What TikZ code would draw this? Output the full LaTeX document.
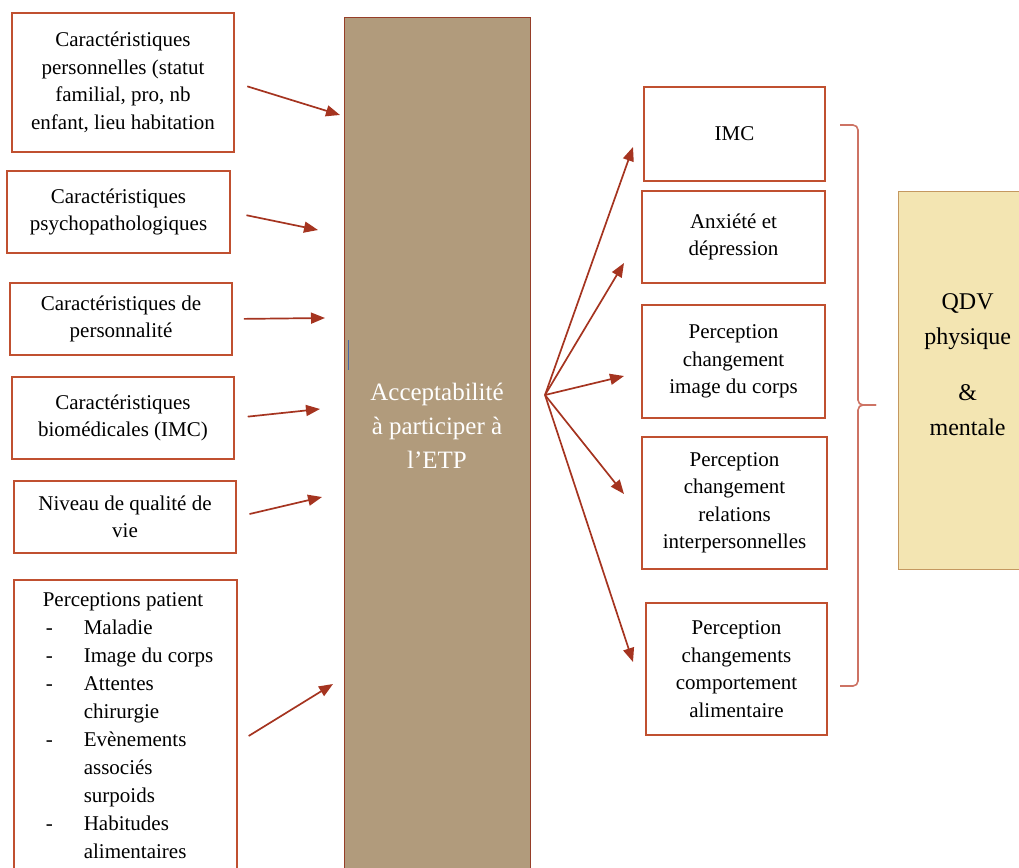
\documentclass[tikz,border=0pt]{standalone}
\usepackage{fontspec}
\setmainfont{Liberation Serif}
\usepackage{tikz}
\usetikzlibrary{positioning}
\usetikzlibrary{arrows.meta}

\definecolor{boxred}{RGB}{192,80,48}
\definecolor{arrred}{RGB}{165,52,32}
\definecolor{etpfill}{RGB}{177,155,124}
\definecolor{etpline}{RGB}{150,62,40}
\definecolor{qdvfill}{RGB}{243,229,178}
\definecolor{qdvline}{RGB}{196,152,96}
\definecolor{bracered}{RGB}{205,115,100}
\definecolor{cursorblue}{RGB}{70,100,165}

\begin{document}
\begin{tikzpicture}[x=1pt, y=-1pt,
    factor/.style={draw=boxred, line width=1.6pt, fill=white, align=center, inner sep=4pt,
                   font=\fontsize{21}{27.5}\selectfont},
    link/.style={-{Triangle[length=14pt, width=11pt]}, draw=arrred, line width=1.7pt},
    brace/.style={draw=bracered, line width=1.6pt, rounded corners=5pt}]
    \useasboundingbox (0,0) rectangle (1019,867);
    \clip (0,0) rectangle (1019,867);
    % nodes %
    \node[factor, minimum width=222pt, minimum height=139pt] (perso) at (123,82.5)
        {Caractéristiques\\ personnelles (statut\\ familial, pro, nb\\ enfant, lieu habitation};
    \node[factor, minimum width=223pt, minimum height=82pt] (psycho) at (118.5,212)
        {Caractéristiques\\ psychopathologiques};
    \node[factor, minimum width=222pt, minimum height=72pt] (person) at (121,319)
        {Caractéristiques de\\ personnalité};
    \node[factor, minimum width=222pt, minimum height=82pt] (biomed) at (123,418)
        {Caractéristiques\\ biomédicales (IMC)};
    \node[factor, minimum width=222pt, minimum height=72pt] (qualite) at (125,517)
        {Niveau de qualité de\\ vie};
    \node[factor, anchor=north west, align=left, inner xsep=29pt, inner ysep=13pt] (percep) at (13,579)
        {\parbox[c][300pt][t]{165pt}{\fontsize{21}{28}\selectfont\raggedright
        \mbox{Perceptions patient}\\
        \hspace*{3pt}\makebox[38pt][l]{-}\mbox{Maladie}\\
        \hspace*{3pt}\makebox[38pt][l]{-}\mbox{Image du corps}\\
        \hspace*{3pt}\makebox[38pt][l]{-}\mbox{Attentes}\\
        \hspace*{41pt}\mbox{chirurgie}\\
        \hspace*{3pt}\makebox[38pt][l]{-}\mbox{Evènements}\\
        \hspace*{41pt}\mbox{associés}\\
        \hspace*{41pt}\mbox{surpoids}\\
        \hspace*{3pt}\makebox[38pt][l]{-}\mbox{Habitudes}\\
        \hspace*{41pt}\mbox{alimentaires}}};

    \node[draw=etpline, line width=1pt, fill=etpfill, anchor=north, inner sep=0pt, text=white,
          font=\fontsize{25}{34}\selectfont] (accept) at (437,17)
        {\parbox[c][880pt][t]{186pt}{\centering\vspace*{366pt}Acceptabilité\\ à participer à\\ l’ETP}};
    \draw[cursorblue, line width=1pt] (348,340) -- (348,370);

    \node[factor, minimum width=181pt, minimum height=94pt] (imc) at (734.5,134) {IMC};
    \node[factor, minimum width=183pt, minimum height=92pt] (anxiete) at (733.5,237)
        {Anxiété et\\ dépression};
    \node[factor, minimum width=183pt, minimum height=113pt] (image) at (733.5,361.5)
        {Perception\\ changement\\ image du corps};
    \node[factor, minimum width=185pt, minimum height=132pt] (relation) at (734.5,503)
        {Perception\\ changement\\ relations\\ interpersonnelles};
    \node[factor, minimum width=181pt, minimum height=132pt] (comport) at (736.5,669)
        {Perception\\ changements\\ comportement\\ alimentaire};

    \node[draw=qdvline, line width=1.2pt, fill=qdvfill, anchor=north west, inner sep=0pt,
          font=\fontsize{24}{35}\selectfont] (qdv) at (898,191)
        {\parbox[c][378pt][t]{138pt}{\centering\vspace*{102pt}QDV\\ physique\\[21pt] \&\\ mentale}};

    % points %
    \coordinate (in1) at (340,115);
    \coordinate (in2) at (318,230);
    \coordinate (in3) at (325,318);
    \coordinate (in4) at (320,409);
    \coordinate (in5) at (322,497);
    \coordinate (in6) at (333,684);
    \coordinate (hub) at (545,395);
    \coordinate (out1) at (633,147);
    \coordinate (out2) at (624,263);
    \coordinate (out3) at (624,376);
    \coordinate (out4) at (624,494);
    \coordinate (out5) at (633,662);

    % edges %
    \draw[link, shorten <=13pt] (perso.east) -- (in1);
    \draw[link, shorten <=16pt] (psycho.east) -- (in2);
    \draw[link, shorten <=11pt] (person.east) -- (in3);
    \draw[link, shorten <=13pt] (biomed.east) -- (in4);
    \draw[link, shorten <=13pt] (qualite.east) -- (in5);
    \draw[link, shorten <=13pt] (percep.east) -- (in6);
    \foreach \o in {out1,out2,out3,out4,out5}
        \draw[link] (hub) -- (\o);

    % brace %
    \draw[brace] (840,125) -- (858,125) -- (858,405) -- (876,405);
    \draw[brace] (876,405) -- (858,405) -- (858,686) -- (840,686);
\end{tikzpicture}
\end{document}
